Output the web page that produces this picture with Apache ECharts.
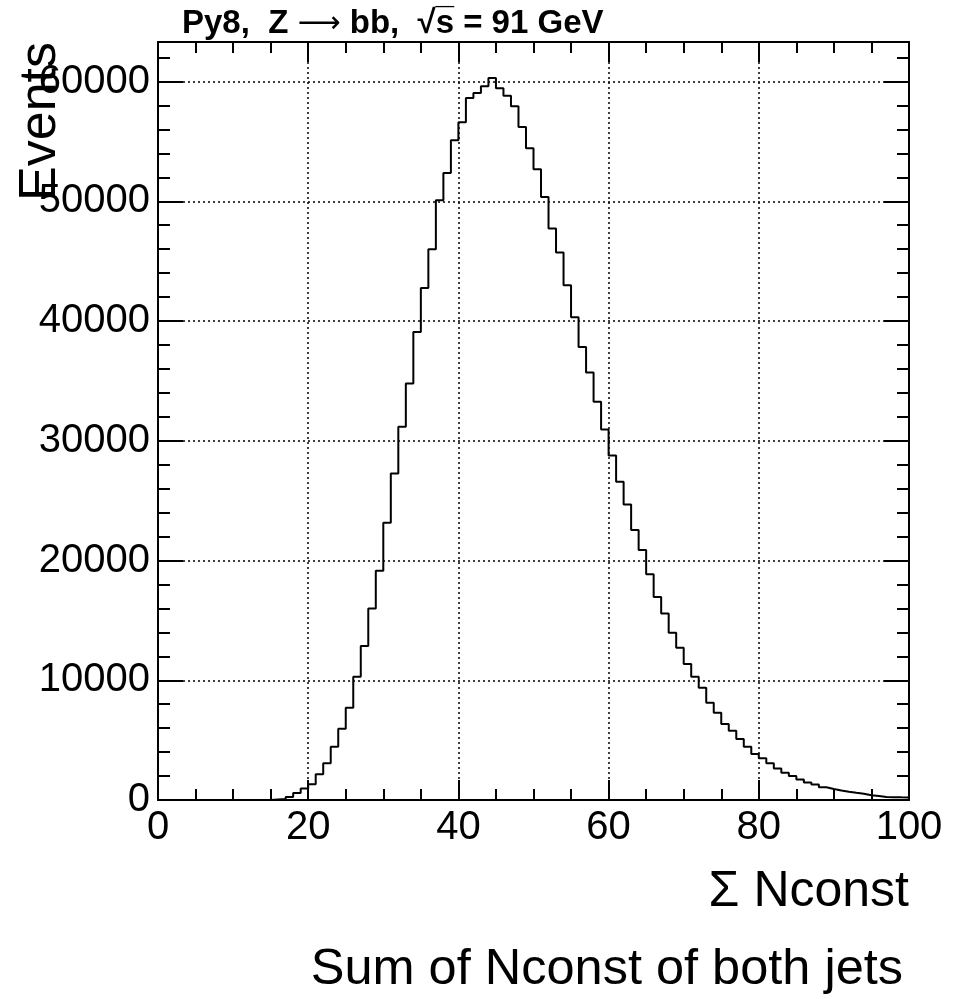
<!DOCTYPE html>
<html>
<head>
<meta charset="utf-8">
<title>Sum of Nconst of both jets</title>
<script src="https://cdn.jsdelivr.net/npm/echarts@6/dist/echarts.min.js"></script>
<style>
html,body{margin:0;padding:0;background:#fff;}
#chart{width:963px;height:999px;}
</style>
</head>
<body>
<div id="chart"></div>
<script>
// histogram: bins of width 1 starting at 0
var binStart = 0;
var binWidth = 1;
var counts = [
  0, 0, 0, 0, 0, 0, 0, 0, 0, 0,
  0, 0, 0, 0, 0, 40, 80, 260, 590, 960,
  1320, 2140, 3060, 4450, 5950, 7710, 10300, 12850, 16000, 19140,
  23150, 27270, 31160, 34780, 39090, 42760, 45990, 50080, 52360, 55090,
  56590, 58620, 59040, 59600, 60290, 59430, 58820, 57930, 56200, 54420,
  52670, 50360, 47720, 45720, 42990, 40310, 37840, 35700, 33250, 30940,
  28770, 26570, 24680, 22540, 20870, 18850, 16950, 15580, 13970, 12720,
  11350, 10300, 9380, 8120, 7290, 6340, 5790, 5090, 4450, 3840,
  3480, 3060, 2640, 2280, 2000, 1720, 1470, 1300, 1060, 920,
  790, 690, 600, 520, 400, 330, 260, 240, 220, 210
];
var xMin = 0, xMax = 100, xStep = 20;
var yMin = 0, yMax = 63300, yStep = 10000;

var font = 'Liberation Sans';
var chart = echarts.init(document.getElementById('chart'));

// step points at the low edge of every bin, plus the last upper edge
var histData = [];
for (var i = 0; i < counts.length; i++) {
  histData.push([binStart + i * binWidth, counts[i]]);
}
histData.push([binStart + counts.length * binWidth, counts[counts.length - 1]]);

var frameLine = {show: true, onZero: false, lineStyle: {color: '#000', width: 2}};
var dotted = {show: true, lineStyle: {color: '#000', width: 1.5, type: [2, 3]}};
var tickStyle = {color: '#000', width: 2};

function xAxisOpt(pos, labels) {
  return {
    type: 'value', position: pos, min: xMin, max: xMax, interval: xStep,
    axisLine: frameLine,
    axisTick: {inside: true, length: 20, lineStyle: tickStyle},
    minorTick: {show: true, splitNumber: 4, length: 11, lineStyle: tickStyle},
    axisLabel: {show: labels, fontFamily: font, fontSize: 40, color: '#000', margin: 8},
    splitLine: labels ? dotted : {show: false}
  };
}
function yAxisOpt(pos, labels) {
  return {
    type: 'value', position: pos, min: yMin, max: yMax, interval: yStep,
    axisLine: frameLine,
    axisTick: {inside: true, length: 25, lineStyle: tickStyle},
    minorTick: {show: true, splitNumber: 5, length: 12, lineStyle: tickStyle},
    axisLabel: {
      show: labels, fontFamily: font, fontSize: 40, color: '#000', margin: 8,
      formatter: function (v) { return v % yStep === 0 ? String(v) : ''; }
    },
    splitLine: labels ? dotted : {show: false}
  };
}

chart.setOption({
  animation: false,
  backgroundColor: '#fff',
  title: {
    // long thin arrow like the TLatex one
    text: 'Py8,  Z {a|\u27F6} bb,  \u221As\u0305 = 91 GeV',
    left: 177, top: 0,
    textStyle: {
      fontFamily: font, fontSize: 33, fontWeight: 'bold', color: '#000', lineHeight: 38,
      rich: {a: {fontFamily: 'DejaVu Sans', fontSize: 30, fontWeight: 'normal', color: '#000', lineHeight: 38}}
    }
  },
  grid: {left: 158, right: 54, top: 42, bottom: 199},
  xAxis: [xAxisOpt('bottom', true), xAxisOpt('top', false)],
  yAxis: [yAxisOpt('left', true), yAxisOpt('right', false)],
  series: [{
    type: 'line', step: 'end', xAxisIndex: 0, yAxisIndex: 0,
    data: histData, symbol: 'none',
    lineStyle: {color: '#000', width: 2}
  }],
  graphic: [
    {type: 'text', x: 41, y: 42, rotation: Math.PI / 2,
     style: {text: 'Events', fontFamily: font, fontSize: 52, fill: '#000', align: 'right', verticalAlign: 'middle'}},
    {type: 'text', x: 909, y: 892,
     style: {text: '\u03A3 Nconst', fontFamily: font, fontSize: 50, fill: '#000', align: 'right', verticalAlign: 'middle'}},
    {type: 'text', x: 903, y: 970,
     style: {text: 'Sum of Nconst of both jets', fontFamily: font, fontSize: 50.5, fill: '#000', align: 'right', verticalAlign: 'middle'}}
  ]
});
</script>
</body>
</html>
